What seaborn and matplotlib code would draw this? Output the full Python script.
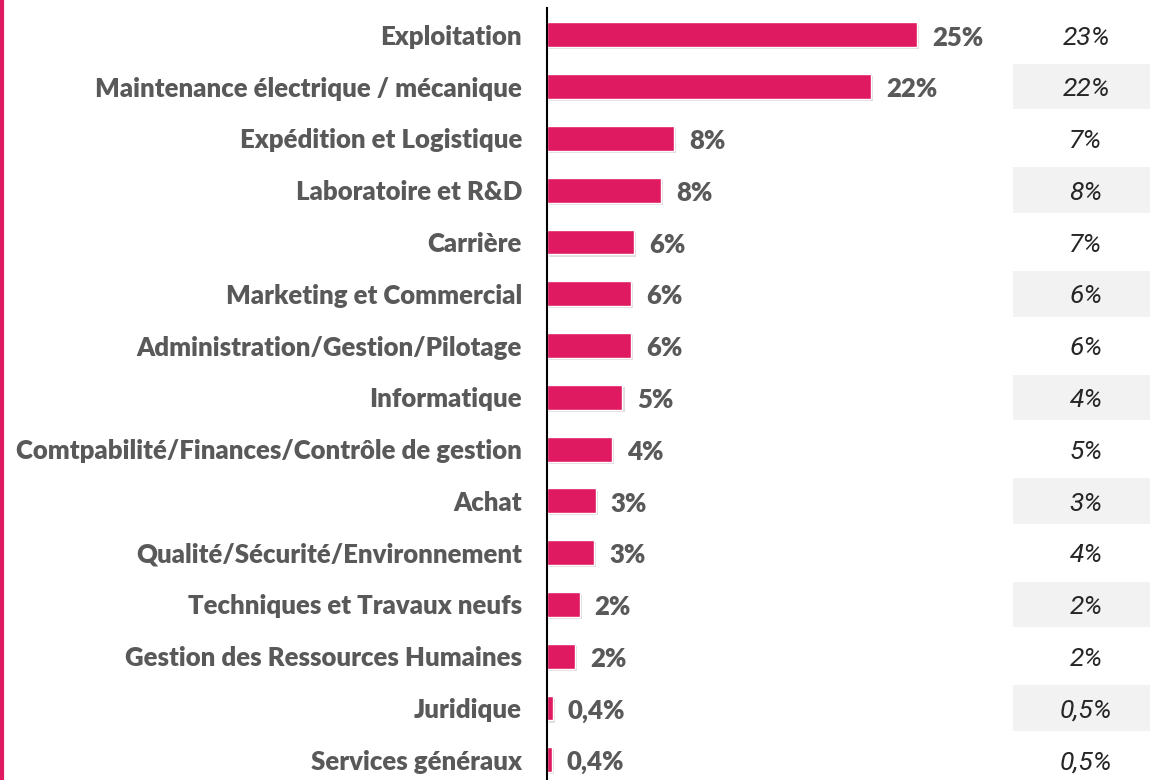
import matplotlib.pyplot as plt
import matplotlib.transforms as mtransforms
import matplotlib.patheffects as pe
from matplotlib.patches import Rectangle
from matplotlib.lines import Line2D
import seaborn as sns
import pandas as pd

# Data
categories = ['Exploitation', 'Maintenance électrique / mécanique', 'Expédition et Logistique',
              'Laboratoire et R&D', 'Carrière', 'Marketing et Commercial',
              'Administration/Gestion/Pilotage', 'Informatique',
              'Comtpabilité/Finances/Contrôle de gestion', 'Achat',
              'Qualité/Sécurité/Environnement', 'Techniques et Travaux neufs',
              'Gestion des Ressources Humaines', 'Juridique', 'Services généraux']
values = [25, 21.9, 8.6, 7.7, 5.9, 5.7, 5.7, 5.1, 4.4, 3.3, 3.2, 2.2, 1.9, 0.4, 0.35]
value_labels = ['25%', '22%', '8%', '8%', '6%', '6%', '6%', '5%', '4%', '3%', '3%',
                '2%', '2%', '0,4%', '0,4%']
previous_labels = ['23%', '22%', '7%', '8%', '7%', '6%', '6%', '4%', '5%', '3%', '4%',
                   '2%', '2%', '0,5%', '0,5%']

df = pd.DataFrame({'cat': categories, 'val': values})

pink = '#E01A61'
grey = '#595959'

sns.set_style('white')
plt.rcParams['font.family'] = ['Lato', 'DejaVu Sans']

fig = plt.figure(figsize=(11.5, 7.8), dpi=100)
ax = fig.add_axes([547 / 1150, 0, (1000 - 547) / 1150, 1 - 8 / 780])

sns.barplot(data=df, x='val', y='cat', orient='h', color=pink, width=0.48,
            saturation=1, ax=ax)
for p in ax.patches:
    p.set_path_effects([pe.SimplePatchShadow(offset=(1.5, -1.5), alpha=0.15),
                        pe.Normal()])

ax.set_xlim(0, (1000 - 547) / 14.8)
ax.set_ylim(14.39, -0.52)
ax.set_xlabel('')
ax.set_ylabel('')
ax.set_xticks([])
for s in ['top', 'right', 'bottom']:
    ax.spines[s].set_visible(False)
ax.spines['left'].set_color('black')
ax.spines['left'].set_linewidth(1.5)
ax.tick_params(axis='y', length=0, pad=18)
for t in ax.get_yticklabels():
    t.set_fontweight('heavy')
    t.set_color(grey)
    t.set_fontsize(18.5)

for i, (v, lab) in enumerate(zip(values, value_labels)):
    ax.text(v + 1.0, i + 0.05, lab, va='center', ha='left', fontsize=18.5,
            fontweight='heavy', color=grey)

# Right-hand column of previous values
trans = mtransforms.blended_transform_factory(fig.transFigure, ax.transData)
for i, lab in enumerate(previous_labels):
    if i % 2 == 1:
        ax.add_patch(Rectangle((1013 / 1150, i - 0.44), 137 / 1150, 0.88,
                               transform=trans, facecolor='#F2F2F2',
                               edgecolor='none', clip_on=False, zorder=0))
    ax.text(1086 / 1150, i + 0.05, lab, transform=trans, ha='center', va='center',
            fontsize=19, style='italic', color='#262626',
            family=['Liberation Sans Narrow', 'Roboto'])

# Pink bar on the left edge
fig.add_artist(Line2D([2 / 1150, 2 / 1150], [0, 1], color=pink, linewidth=3,
                      transform=fig.transFigure))

fig.savefig('out.png', dpi=100)
